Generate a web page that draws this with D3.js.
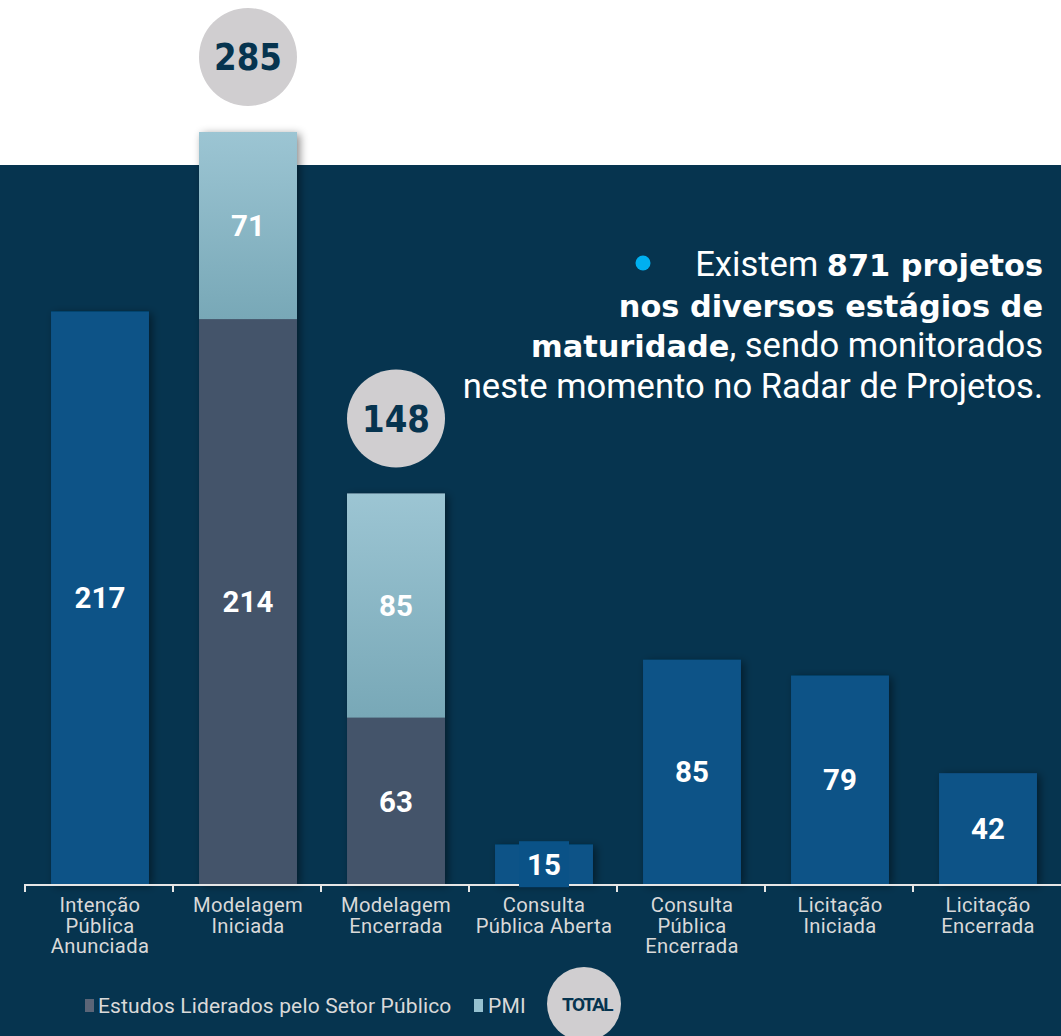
<!DOCTYPE html>
<html><head><meta charset="utf-8">
<script src="https://cdn.jsdelivr.net/npm/d3@7"></script>
<style>
html,body{margin:0;padding:0;background:#fff;}
svg{display:block;}
</style></head>
<body>
<svg id="c" width="1061" height="1036"></svg>
<script>
const categories = ["Intenção\nPública\nAnunciada","Modelagem\nIniciada","Modelagem\nEncerrada","Consulta\nPública Aberta","Consulta\nPública\nEncerrada","Licitação\nIniciada","Licitação\nEncerrada"];
const totalValues = [217, 285, 148, 15, 85, 79, 42];
const publicSectorValues = [0, 214, 63, 0, 0, 0, 0];
const pmiValues = [0, 71, 85, 0, 0, 0, 0];
const legendLabels = ["Estudos Liderados pelo Setor Público", "PMI", "TOTAL"];

const W = 1061, H = 1036;
const svg = d3.select("#c");
const defs = svg.append("defs");
const sh = defs.append("filter").attr("id","sh").attr("x","-30%").attr("y","-30%").attr("width","160%").attr("height","160%");
sh.append("feDropShadow").attr("dx",3).attr("dy",2).attr("stdDeviation",4).attr("flood-color","#000").attr("flood-opacity",0.45);
const g1 = defs.append("linearGradient").attr("id","pmiG").attr("x1",0).attr("y1",0).attr("x2",0).attr("y2",1);
g1.append("stop").attr("offset","0%").attr("stop-color","#9CC5D3");
g1.append("stop").attr("offset","100%").attr("stop-color","#78A8B7");

// background
svg.append("rect").attr("x",0).attr("y",0).attr("width",W).attr("height",H).attr("fill","#fff");
svg.append("rect").attr("x",0).attr("y",165).attr("width",W).attr("height",H-165).attr("fill","#06344F");

const x = d3.scaleBand().domain(categories).range([25,1061]).paddingInner(0.338).paddingOuter(0.169);
const y = d3.scaleLinear().domain([0,285]).range([884,132]);

const bw = x.bandwidth();
const blue = "#0A5287", gray = "#44546A";

const gb = svg.append("g");
categories.forEach((c,i)=>{
  const x0 = x(c) + 1;
  if (pmiValues[i] > 0) {
    const ps = publicSectorValues[i], pm = pmiValues[i];
    gb.append("rect").attr("x",x0).attr("y",y(ps+pm)).attr("width",bw).attr("height",y(0)-y(ps+pm)).attr("fill",gray).attr("filter","url(#sh)");
    gb.append("rect").attr("x",x0).attr("y",y(ps+pm)).attr("width",bw).attr("height",y(ps)-y(ps+pm)).attr("fill","url(#pmiG)");
    gb.append("rect").attr("x",x0).attr("y",y(ps)).attr("width",bw).attr("height",y(0)-y(ps)).attr("fill",gray);
  } else {
    gb.append("rect").attr("x",x0).attr("y",y(totalValues[i])).attr("width",bw).attr("height",y(0)-y(totalValues[i])).attr("fill",blue).attr("filter","url(#sh)");
  }
});

// axis
const ax = svg.append("g");
ax.append("line").attr("x1",25).attr("x2",1061).attr("y1",885).attr("y2",885).attr("stroke","#E6E6E6").attr("stroke-width",2);
const bounds = categories.map(c => x(c) - x.step()*x.paddingInner()/2);
bounds.forEach(b=>{
  ax.append("line").attr("x1",b).attr("x2",b).attr("y1",884).attr("y2",892).attr("stroke","#E6E6E6").attr("stroke-width",2);
});
categories.forEach(c=>{
  const lines = c.split("\n");
  lines.forEach((l,k)=>{
    ax.append("text").attr("text-anchor","middle").attr("fill","#D9D9D9")
      .attr("font-family","Roboto, 'Liberation Sans', sans-serif").attr("font-size",20.2).attr("letter-spacing","0.35")
      .attr("x",x(c)+1+bw/2).attr("y",912+k*20.5).text(l);
  });
});

// value labels
const lab = svg.append("g").attr("font-family","Roboto, 'Open Sans', sans-serif").attr("font-weight","bold").attr("font-size",29.5).attr("fill","#fff").attr("text-anchor","middle");
categories.forEach((c,i)=>{
  const cx = x(c)+1+bw/2;
  if (pmiValues[i] > 0) {
    const ps = publicSectorValues[i], pm = pmiValues[i];
    lab.append("text").attr("x",cx).attr("y",(y(ps)+y(ps+pm))/2).attr("dy","0.36em").text(pm);
    lab.append("text").attr("x",cx).attr("y",(y(0)+y(ps))/2).attr("dy","0.36em").text(ps);
  } else {
    const v = totalValues[i];
    const cy = (y(0)+y(v))/2;
    if (y(0)-y(v) < 45) {
      lab.append("rect").attr("x",cx-25).attr("y",cy-23).attr("width",50).attr("height",46).attr("fill",blue);
    }
    lab.append("text").attr("x",cx).attr("y",cy).attr("dy","0.36em").text(v);
  }
});

// total circles
const tc = svg.append("g");
categories.forEach((c,i)=>{
  if (pmiValues[i] > 0) {
    const cx = x(c)+1+bw/2, cy = y(totalValues[i]) - 75;
    tc.append("circle").attr("cx",cx).attr("cy",cy).attr("r",49).attr("fill","#D0CED0");
    tc.append("text").attr("transform",`translate(${cx},${cy}) scale(0.88,1)`).attr("dy","0.36em").attr("text-anchor","middle")
      .attr("font-family","'DejaVu Sans', Verdana, sans-serif").attr("font-weight","bold").attr("font-size",37)
      .attr("fill","#06344F").text(totalValues[i]);
  }
});

// text block
const tb = svg.append("g").attr("fill","#fff").attr("text-anchor","end");
tb.append("circle").attr("cx",643).attr("cy",263).attr("r",7.5).attr("fill","#00B0F0");
const lines = [
  [["Existem ","n"],["871 projetos","b"]],
  [["nos diversos estágios de","b"]],
  [["maturidade","b"],[", sendo monitorados","n"]],
  [["neste momento no Radar de Projetos.","n"]]
];
lines.forEach((ln,k)=>{
  const t = tb.append("text").attr("x",1043).attr("y",276+k*40.5);
  ln.forEach(([s,w])=>{
    const sp = t.append("tspan").text(s);
    if (w==="b") sp.attr("font-family","'DejaVu Sans', Verdana, sans-serif").attr("font-weight","bold").attr("font-size",30.4);
    else sp.attr("font-family","Roboto, sans-serif").attr("font-size",34.6);
  });
});

// legend
const lg = svg.append("g").attr("font-family","Roboto, sans-serif").attr("font-size",21).attr("fill","#D9D9D9");
lg.append("rect").attr("x",85).attr("y",999).attr("width",9).attr("height",13).attr("fill","#5B6577");
lg.append("text").attr("x",98).attr("y",1013).attr("letter-spacing","0.15").text(legendLabels[0]);
lg.append("rect").attr("x",474).attr("y",999).attr("width",9).attr("height",13).attr("fill","#96C1D0");
lg.append("text").attr("x",488).attr("y",1013).attr("letter-spacing","0.15").text(legendLabels[1]);
lg.append("circle").attr("cx",584).attr("cy",1004).attr("r",37).attr("fill","#D0CED0");
lg.append("text").attr("x",587).attr("y",1004).attr("dy","0.36em").attr("text-anchor","middle")
  .attr("font-family","Roboto, sans-serif").attr("font-weight","bold").attr("font-size",19).attr("letter-spacing","-1.6").attr("fill","#06344F").text(legendLabels[2]);
</script>
</body></html>
